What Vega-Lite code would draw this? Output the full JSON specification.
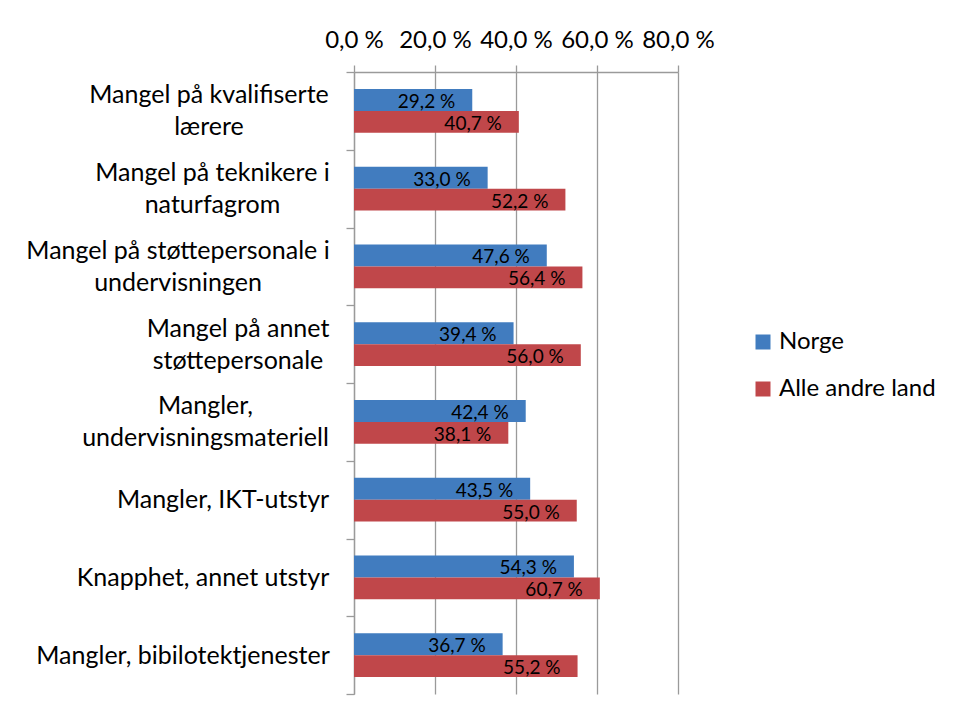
{
  "$schema": "https://vega.github.io/schema/vega-lite/v6.json",
  "autosize": {"type": "none"},
  "width": 324,
  "height": 622,
  "padding": {"left": 354, "top": 72, "right": 281, "bottom": 24},
  "background": "white",
  "config": {
    "font": "Lato",
    "view": {"stroke": null}
  },
  "data": {
    "values": [
      {"kategori": "Mangel på kvalifiserte|lærere", "serie": "Norge", "andel": 29.2},
      {"kategori": "Mangel på kvalifiserte|lærere", "serie": "Alle andre land", "andel": 40.7},
      {"kategori": "Mangel på teknikere i|naturfagrom", "serie": "Norge", "andel": 33.0},
      {"kategori": "Mangel på teknikere i|naturfagrom", "serie": "Alle andre land", "andel": 52.2},
      {"kategori": "Mangel på støttepersonale i|undervisningen", "serie": "Norge", "andel": 47.6},
      {"kategori": "Mangel på støttepersonale i|undervisningen", "serie": "Alle andre land", "andel": 56.4},
      {"kategori": "Mangel på annet|støttepersonale", "serie": "Norge", "andel": 39.4},
      {"kategori": "Mangel på annet|støttepersonale", "serie": "Alle andre land", "andel": 56.0},
      {"kategori": "Mangler,|undervisningsmateriell", "serie": "Norge", "andel": 42.4},
      {"kategori": "Mangler,|undervisningsmateriell", "serie": "Alle andre land", "andel": 38.1},
      {"kategori": "Mangler, IKT-utstyr", "serie": "Norge", "andel": 43.5},
      {"kategori": "Mangler, IKT-utstyr", "serie": "Alle andre land", "andel": 55.0},
      {"kategori": "Knapphet, annet utstyr", "serie": "Norge", "andel": 54.3},
      {"kategori": "Knapphet, annet utstyr", "serie": "Alle andre land", "andel": 60.7},
      {"kategori": "Mangler, bibilotektjenester", "serie": "Norge", "andel": 36.7},
      {"kategori": "Mangler, bibilotektjenester", "serie": "Alle andre land", "andel": 55.2}
    ]
  },
  "transform": [
    {"calculate": "replace(format(datum.andel, '.1f'), '.', ',') + ' %'", "as": "etikett"}
  ],
  "encoding": {
    "y": {
      "field": "kategori",
      "type": "nominal",
      "sort": null,
      "scale": {"paddingInner": 0, "paddingOuter": 0},
      "axis": {
        "title": null,
        "tickBand": "extent",
        "domainColor": "#9a9a9a",
        "domainWidth": 1.3,
        "tickColor": "#9a9a9a",
        "tickWidth": 1.3,
        "tickSize": 8,
        "labelFont": "Lato",
        "labelFontSize": 25,
        "labelColor": "#000000",
        "labelAlign": "center",
        "labelLineHeight": 32,
        "labelLimit": 400,
        "labelPadding": {
          "condition": [
            {"test": "datum.value === 'Mangel på kvalifiserte|lærere'", "value": 137.5},
            {"test": "datum.value === 'Mangel på teknikere i|naturfagrom'", "value": 134},
            {"test": "datum.value === 'Mangel på støttepersonale i|undervisningen'", "value": 168.5},
            {"test": "datum.value === 'Mangel på annet|støttepersonale'", "value": 108.5},
            {"test": "datum.value === 'Mangler,|undervisningsmateriell'", "value": 141},
            {"test": "datum.value === 'Mangler, IKT-utstyr'", "value": 123.5},
            {"test": "datum.value === 'Knapphet, annet utstyr'", "value": 143.5}
          ],
          "value": 163.5
        },
        "labelOffset": {"condition": {"test": "datum.value && indexof(datum.value, '|') >= 0", "value": -16}, "value": 0},
        "labelExpr": "datum.value ? split(datum.value, '|') : ''"
      }
    },
    "yOffset": {
      "field": "serie",
      "type": "nominal",
      "sort": ["Norge", "Alle andre land"],
      "scale": {"paddingInner": 0, "paddingOuter": 0.78}
    },
    "x": {
      "field": "andel",
      "type": "quantitative",
      "scale": {"domain": [0, 80], "nice": false},
      "axis": {
        "orient": "top",
        "title": null,
        "values": [0, 20, 40, 60, 80],
        "grid": true,
        "gridColor": "#9a9a9a",
        "gridWidth": 1.3,
        "domainColor": "#9a9a9a",
        "domainWidth": 1.3,
        "tickColor": "#9a9a9a",
        "tickWidth": 1.3,
        "tickSize": 7,
        "labelPadding": 13,
        "labelFont": "Lato",
        "labelFontSize": 24,
        "labelColor": "#000000",
        "labelFlush": false,
        "labelExpr": "replace(format(datum.value, '.1f'), '.', ',') + ' %'"
      }
    }
  },
  "layer": [
    {
      "mark": {"type": "bar"},
      "encoding": {
        "color": {
          "field": "serie",
          "type": "nominal",
          "scale": {"domain": ["Norge", "Alle andre land"], "range": ["#417CBF", "#C0474A"]},
          "legend": {
            "title": null,
            "orient": "none",
            "legendX": 397,
            "legendY": 258,
            "symbolType": "square",
            "symbolSize": 225,
            "symbolStrokeWidth": 0,
            "labelFont": "Lato",
            "labelFontSize": 24,
            "labelColor": "#000000",
            "labelOffset": 4,
            "rowPadding": 23,
            "labelLimit": 300
          }
        }
      }
    },
    {
      "mark": {"type": "text", "align": "right", "baseline": "middle", "dx": -17, "dy": 2, "font": "Lato", "fontSize": 19, "color": "#000000"},
      "encoding": {
        "text": {"field": "etikett"}
      }
    }
  ]
}
